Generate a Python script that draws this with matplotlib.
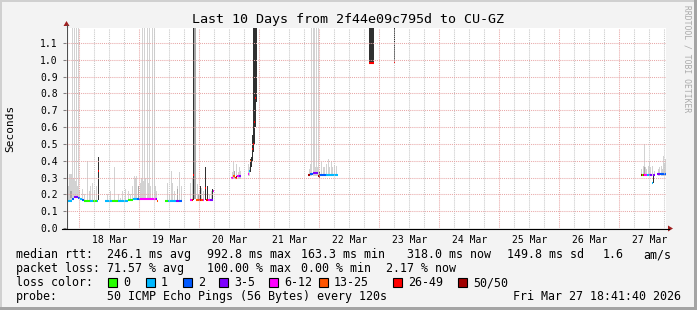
import matplotlib
matplotlib.use("Agg")
import matplotlib.pyplot as plt
from matplotlib.patches import Rectangle, Polygon

# time axis: hours since Mar 17 18:41:40, 10 days = 240 h
first_midnight = 5.3056
day_labels = ["18 Mar", "19 Mar", "20 Mar", "21 Mar", "22 Mar",
              "23 Mar", "24 Mar", "25 Mar", "26 Mar", "27 Mar"]
y_ticks = [0.0, 0.1, 0.2, 0.3, 0.4, 0.5, 0.6, 0.7, 0.8, 0.9, 1.0, 1.1]

loss_colors = ["#26ff00", "#00b8ff", "#0059ff", "#7e00ff",
               "#ff00ff", "#ff5500", "#ff0000", "#a00000"]
loss_labels = ["0", "1", "2", "3-5", "6-12", "13-25", "26-49", "50/50"]

# median runs: start h, end h, seconds, loss class
med_start = [0.4, 2.4, 3.2, 4.8, 5.6, 6.4, 7.2, 9.6, 10.8, 12.4, 12.8,
             15.6, 18.4, 20.8, 24.8, 26.8, 28.4, 29.6, 36.0, 36.4,
             39.6, 40.8, 44.0, 45.2,
             49.6, 50.4, 50.8, 52.0, 53.2, 54.0, 54.8, 55.6, 56.0, 56.8, 57.6, 58.8,
             66.0, 66.8, 67.6, 68.4, 69.2,
             72.8, 73.2, 73.6, 74.4, 74.8, 75.2, 75.6,
             96.8, 97.6, 98.8, 100.8, 101.6, 104.0,
             121.2, 131.2,
             230.0, 230.4, 230.8, 231.2, 232.4, 233.2, 234.4, 234.8, 236.4, 237.6]
med_end = [2.4, 3.2, 4.8, 5.6, 6.4, 7.2, 9.6, 10.8, 12.4, 12.8, 13.2,
           18.4, 20.8, 24.8, 26.8, 28.4, 29.6, 36.0, 36.4, 36.8,
           40.8, 44.0, 45.2, 46.4,
           50.4, 50.8, 51.2, 53.2, 54.0, 54.8, 55.2, 56.0, 56.8, 57.6, 58.8, 59.2,
           66.8, 67.6, 68.4, 69.2, 70.0,
           73.2, 73.6, 74.0, 74.8, 75.2, 75.6, 76.0,
           97.6, 98.8, 100.8, 101.6, 104.0, 108.8,
           123.2, 131.6,
           230.4, 230.8, 231.2, 232.4, 233.2, 234.4, 234.8, 235.6, 237.6, 240.0]
med_val = [0.162, 0.175, 0.185, 0.18, 0.172, 0.165, 0.162, 0.162, 0.162, 0.162, 0.34,
           0.162, 0.162, 0.162, 0.168, 0.172, 0.175, 0.175, 0.17, 0.162,
           0.162, 0.162, 0.162, 0.162,
           0.165, 0.165, 0.315, 0.165, 0.165, 0.165, 0.165, 0.24, 0.165, 0.165, 0.165, 0.22,
           0.30, 0.31, 0.30, 0.31, 0.31,
           0.32, 0.34, 0.40, 0.47, 0.50, 0.63, 0.77,
           0.315, 0.32, 0.328, 0.31, 0.315, 0.315,
           0.978, 0.985,
           0.317, 0.317, 0.317, 0.317, 0.317, 0.317, 0.27, 0.317, 0.32, 0.32]
med_loss = [1, 2, 3, 2, 1, 2, 0, 1, 0, 1, 6,
            1, 0, 1, 0, 1, 2, 4, 3, 5,
            0, 1, 3, 2,
            4, 6, 6, 5, 6, 5, 4, 6, 6, 4, 3, 4,
            4, 5, 6, 4, 3,
            4, 1, 5, 6, 6, 6, 6,
            7, 2, 3, 7, 2, 1,
            6, 6,
            7, 0, 6, 4, 1, 3, 1, 3, 3, 2]

# smoke columns (h, low, high)
light_t = [0.8, 1.2, 1.6, 2.0, 2.4, 2.8, 3.2, 3.6, 4.0, 4.4, 4.8, 5.2, 6.4, 7.2, 8.4,
           9.2, 9.6, 10.4, 11.2, 12.0,
           16.4, 17.6, 19.2, 20.8, 21.6, 22.4, 23.6, 24.8, 25.6, 26.4, 27.2, 27.6, 28.0,
           28.8, 29.6, 30.0, 30.4, 30.8, 31.2, 31.6, 32.4, 32.8, 33.2, 33.6, 34.4, 35.2,
           35.6, 36.0,
           40.4, 41.2, 42.0, 42.4, 43.2, 44.4, 45.2, 46.0,
           49.6, 50.4, 52.4, 53.2, 54.0, 54.8, 57.2, 58.0,
           66.4, 66.8, 67.2, 68.0, 68.8, 69.2, 69.6,
           72.8, 73.2,
           97.2, 97.6, 98.0, 98.8, 99.2, 99.6, 100.0, 100.4, 100.8, 102.0, 102.8, 103.2,
           104.0, 104.8, 105.2, 106.0, 106.4, 107.2, 108.0,
           230.0, 230.8, 231.2, 231.6, 232.0, 232.8, 233.2, 233.6, 234.4, 235.2,
           236.8, 237.2, 238.0, 238.4, 238.8, 239.2, 239.6]
light_lo = [0.16] * 4 + [0.17] * 2 + [0.18] * 6 + [0.165] * 8 + \
           [0.165] * 16 + [0.175] * 12 + \
           [0.165] * 8 + [0.165] * 8 + [0.29] * 7 + [0.31] * 2 + \
           [0.31] * 19 + [0.31] * 17
light_hi = [0.25, 0.32, 0.32, 0.32, 1.19, 0.30, 1.19, 0.28, 1.19, 0.25, 1.19, 0.22, 0.23,
            0.20, 0.40, 0.22, 0.25, 0.27, 0.22, 0.25,
            0.20, 0.22, 0.36, 0.20, 0.18, 0.22, 0.23, 0.22, 0.20, 0.25, 0.31, 0.30, 0.31,
            0.24, 0.27, 0.30, 1.19, 0.28, 1.19, 0.30, 1.19, 0.27, 1.19, 0.25, 1.19, 1.19,
            0.25, 0.22,
            0.27, 0.20, 0.34, 0.27, 0.22, 0.25, 0.33, 0.25,
            0.27, 0.30, 0.26, 0.22, 0.24, 0.22, 0.20, 0.22,
            0.33, 0.39, 0.34, 0.38, 0.33, 0.36, 0.34,
            0.38, 0.36,
            0.35, 0.38, 1.19, 1.19, 1.19, 0.36, 1.19, 0.36, 1.19, 0.39, 0.36, 0.36,
            0.38, 0.41, 0.36, 0.40, 0.36, 0.37, 0.37,
            0.35, 0.37, 0.50, 0.36, 0.35, 0.37, 0.40, 0.36, 0.37, 0.34,
            0.35, 0.36, 0.37, 0.35, 0.43, 0.38, 0.41]

mid_t = [1.6, 2.0, 28.8, 44.4, 51.2, 51.6, 52.8, 67.2, 231.2]
mid_lo = [0.18, 0.18, 0.175, 0.165, 0.17, 0.17, 0.165, 0.30, 0.32]
mid_hi = [0.22, 0.22, 0.25, 0.23, 1.19, 1.19, 0.20, 0.34, 0.36]

dark_t = [12.8, 50.8, 53.6, 55.6, 56.4, 58.4, 68.0, 73.6, 74.0, 74.4, 74.8, 75.2, 75.6,
          76.0, 97.2, 101.2, 121.2, 121.6, 122.0, 122.4, 122.8, 131.2, 234.8]
dark_lo = [0.165, 0.165, 0.165, 0.165, 0.165, 0.17, 0.29, 0.33, 0.36, 0.40, 0.45, 0.50,
           0.60, 0.75, 0.31, 0.30, 0.978, 0.978, 0.978, 0.978, 0.978, 0.985, 0.27]
dark_hi = [0.42, 1.19, 0.25, 0.36, 0.25, 0.23, 0.31, 0.41, 0.42, 0.55, 1.19, 1.19,
           1.19, 1.19, 0.32, 0.33, 1.19, 1.19, 1.19, 1.19, 1.19, 1.19, 0.32]

W, H = 697, 310
mono = "DejaVu Sans Mono"
plt.rcParams["font.family"] = mono

fig = plt.figure(figsize=(W / 100, H / 100), dpi=100, facecolor="#f3f3f3")
ax = fig.add_axes([66 / W, 82 / H, 600 / W, 200 / H])
ax.set_facecolor("white")
ax.set_xlim(0, 240)
ax.set_ylim(0, 1.189)
for s in ax.spines.values():
    s.set_visible(False)

px = 0.4  # one pixel in hours
for t, lo, hi, col in [(light_t, light_lo, light_hi, "#d2d2d2"),
                       (mid_t, mid_lo, mid_hi, "#a6a6a6"),
                       (dark_t, dark_lo, dark_hi, "#303030")]:
    ax.bar(t, [h - l for h, l in zip(hi, lo)], bottom=lo, width=px, align="edge",
           color=col, linewidth=0, zorder=2)

for a, b, v, c in zip(med_start, med_end, med_val, med_loss):
    ax.hlines(v, a, b, colors=loss_colors[c], lw=1.5, zorder=4)

# grid
dot = (0, (1, 1))
for k in range(10):
    ax.axvline(first_midnight + 24 * k, color="#e8a8a8", lw=0.75, ls=dot, zorder=5)
    for q in (1, 2, 3):
        h = first_midnight + 24 * k + 6 * q
        if h < 240:
            ax.axvline(h, color="#c8c8c8", lw=0.75, ls=dot, zorder=5)
for y in y_ticks[1:]:
    ax.axhline(y, color="#e8a8a8", lw=0.75, ls=dot, zorder=5)

ax.set_yticks(y_ticks, ["%.1f" % v for v in y_ticks])
ax.set_xticks([first_midnight + 12 + 24 * k for k in range(10)], day_labels)
ax.tick_params(axis="y", length=2, width=0.75, color="#808080", pad=4, labelsize=7)
ax.tick_params(axis="x", length=0, pad=5, labelsize=7)

# axis lines + arrows in pixel space
def fx(x):
    return x / W

def fy(y):
    return 1 - y / H

fig.add_artist(plt.Line2D([fx(66.5), fx(66.5)], [fy(228), fy(25)], color="#505050", lw=0.8))
fig.add_artist(plt.Line2D([fx(62), fx(669)], [fy(228.5), fy(228.5)], color="black", lw=0.8))
fig.add_artist(Polygon([(fx(63.5), fy(26)), (fx(69.5), fy(26)), (fx(66.5), fy(21))],
                       closed=True, color="#a02020", lw=0))
fig.add_artist(Polygon([(fx(668), fy(225.5)), (fx(668), fy(231.5)), (fx(673), fy(228.5))],
                       closed=True, color="#a02020", lw=0))

# frame
fig.add_artist(Rectangle((0, fy(2)), 1, 2 / H, color="#d0d0d0", lw=0))
fig.add_artist(Rectangle((0, 0), 2 / W, 1, color="#d0d0d0", lw=0))
fig.add_artist(Rectangle((fx(694), 0), 3 / W, 1, color="#a4a4a4", lw=0))
fig.add_artist(Rectangle((0, 0), 1, 3 / H, color="#a4a4a4", lw=0))

fig.text(fx(348), fy(23.5), "Last 10 Days from 2f44e09c795d to CU-GZ",
         ha="center", va="baseline", fontsize=9.6)
fig.text(fx(10), fy(128), "Seconds", rotation=90, ha="center", va="center", fontsize=8)
fig.text(fx(687), fy(59), "RRDTOOL / TOBI OETIKER", rotation=-90, ha="center",
         va="center", fontsize=5.8, color="#aaaaaa")

fs = 8.4
rows = [
    (258, [(16, "median rtt:"), (107, "246.1 ms avg"), (207, "992.8 ms max"),
           (301, "163.3 ms min"), (407, "318.0 ms now"), (507, "149.8 ms sd"),
           (603, "1.6"), (643, "am/s")]),
    (272, [(16, "packet loss:"), (107, "71.57 % avg"), (207, "100.00 % max"),
           (301, "0.00 % min"), (386, "2.17 % now")]),
    (300, [(16, "probe:"), (107, "50 ICMP Echo Pings (56 Bytes) every 120s"),
           (513, "Fri Mar 27 18:41:40 2026")]),
]
for yb, items in rows:
    for x, s in items:
        fig.text(fx(x), fy(yb), s, ha="left", va="baseline", fontsize=fs)

fig.text(fx(16), fy(286), "loss color:", ha="left", va="baseline", fontsize=fs)
box_x = [108, 146, 183, 219, 269, 319, 393, 458]
for bx, col, lab in zip(box_x, loss_colors, loss_labels):
    fig.add_artist(Rectangle((fx(bx), fy(286.5)), 9 / W, 9 / H, facecolor=col,
                             edgecolor="black", lw=0.8))
    fig.text(fx(bx + 15), fy(286), lab, ha="left", va="baseline", fontsize=fs)

fig.savefig("out.png", dpi=100, facecolor=fig.get_facecolor())
